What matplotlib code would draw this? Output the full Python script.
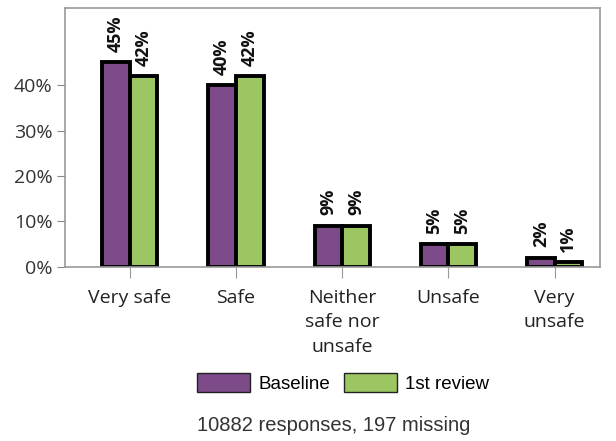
import matplotlib.pyplot as plt
import numpy as np
from matplotlib.patches import Patch

categories = ["Very safe", "Safe", "Neither\nsafe nor\nunsafe", "Unsafe", "Very\nunsafe"]
baseline = [45, 40, 9, 5, 2]
review = [42, 42, 9, 5, 1]
series_names = ["Baseline", "1st review"]
colors = ["#7d4a8a", "#9bc662"]

plt.rcParams['font.family'] = ['Open Sans', 'DejaVu Sans']

fig = plt.figure(figsize=(6.16, 4.41), dpi=100)
ax = fig.add_axes([0.1055, 0.395, 0.869, 0.587])

x = np.arange(len(categories))
w = 0.26
b1 = ax.bar(x - w / 2, baseline, w, color=colors[0], edgecolor='black', linewidth=2.8)
b2 = ax.bar(x + w / 2, review, w, color=colors[1], edgecolor='black', linewidth=2.8)

for bars, vals in [(b1, baseline), (b2, review)]:
    for bar, v in zip(bars, vals):
        ax.text(bar.get_x() + bar.get_width() / 2, v + 2.3, f"{v}%", rotation=90,
                ha='center', va='bottom', fontsize=13, fontweight='bold', color='#111111')

ax.set_xlim(-0.61, 4.43)
ax.set_ylim(0, 57)
ax.set_yticks([0, 10, 20, 30, 40])
ax.set_yticklabels([f"{t}%" for t in [0, 10, 20, 30, 40]])
ax.set_xticks(x)
ax.set_xticklabels(categories, linespacing=1.45)
ax.tick_params(axis='y', length=6, color='#888888', labelsize=14, labelcolor='#333333', pad=3)
ax.tick_params(axis='x', length=8, color='#999999', labelsize=14, labelcolor='#222222', pad=8)
for s in ax.spines.values():
    s.set_color('#999999')
    s.set_linewidth(1.2)

handles = [Patch(facecolor=colors[0], edgecolor='#222222', linewidth=1),
           Patch(facecolor=colors[1], edgecolor='#222222', linewidth=1)]
fig.legend(handles, series_names, loc='center', bbox_to_anchor=(0.557, 0.132), ncol=2,
           frameon=False, handlelength=2.85, handleheight=1.15, handletextpad=0.45,
           columnspacing=0.7, prop={'family': 'Liberation Sans', 'size': 13.5})
fig.text(0.541, 0.036, "10882 responses, 197 missing", ha='center', va='center',
         fontsize=14.5, family='Liberation Sans', color='#333333')

fig.savefig('out.png', dpi=100)
